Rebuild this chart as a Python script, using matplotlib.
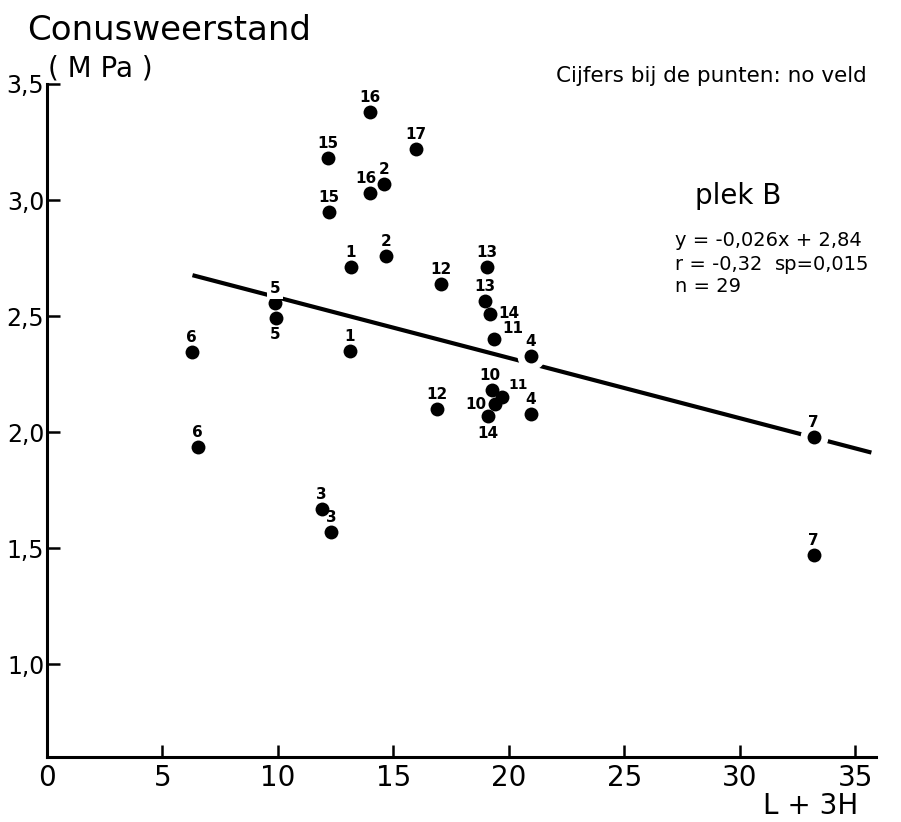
import matplotlib
matplotlib.use("Agg")
import matplotlib.pyplot as plt
import numpy as np

# Field numbers and measured values (x = L + 3H, y = cone resistance in MPa)
field_no = [1, 1, 2, 2, 3, 3, 4, 4, 5, 5, 6, 6, 7, 7, 10, 10,
            11, 11, 12, 12, 13, 13, 14, 14, 15, 15, 16, 16, 17]
x_vals = [13.15, 13.1, 14.58, 14.67, 11.9, 12.3, 20.94, 20.94, 9.87, 9.9,
          6.27, 6.53, 33.2, 33.2, 19.25, 19.4, 19.34, 19.7, 17.05, 16.9,
          19.04, 18.95, 19.2, 19.1, 12.16, 12.2, 14.0, 14.0, 15.97]
y_vals = [2.71, 2.35, 3.07, 2.76, 1.67, 1.57, 2.33, 2.08, 2.555, 2.49,
          2.345, 1.935, 1.98, 1.47, 2.18, 2.12, 2.40, 2.15, 2.64, 2.10,
          2.71, 2.565, 2.51, 2.07, 3.18, 2.95, 3.38, 3.03, 3.22]

# Regression line
slope = -0.026
intercept = 2.84
fit_range = [6.3, 35.7]

x_ticks = [0, 5, 10, 15, 20, 25, 30, 35]
y_ticks = [1.0, 1.5, 2.0, 2.5, 3.0, 3.5]
y_tick_labels = ["1,0", "1,5", "2,0", "2,5", "3,0", "3,5"]

REG = ["DejaVu Sans"]

fig = plt.figure(figsize=(9.01, 8.22), dpi=100)
fig.patch.set_facecolor("white")
L, R, T, B = 47, 876, 84, 757
ax = fig.add_axes([L / 901, (822 - B) / 822, (R - L) / 901, (B - T) / 822])
ax.set_xlim(0, 35.9)
ax.set_ylim(0.6, 3.5)

for side in ("top", "right"):
    ax.spines[side].set_visible(False)
for side in ("left", "bottom"):
    ax.spines[side].set_linewidth(2.2)
    ax.spines[side].set_color("black")

ax.set_xticks(x_ticks)
ax.set_xticklabels([str(t) for t in x_ticks], fontfamily=REG, fontsize=20)
ax.set_yticks(y_ticks)
ax.set_yticklabels(y_tick_labels, fontfamily=REG, fontsize=17)
ax.tick_params(axis="both", direction="in", length=9, width=1.8, colors="black")
ax.tick_params(axis="x", pad=5)
ax.tick_params(axis="y", pad=2)

# regression line
fx = np.array(fit_range)
ax.plot(fx, slope * fx + intercept, color="black", lw=3.0, zorder=2,
        solid_capstyle="butt")

# points, with a white halo where they sit on the line
ax.plot(x_vals, y_vals, "o", ms=10, color="black", mew=0,
        zorder=4, clip_on=False)
halo_idx = [6, 12]
ax.plot([x_vals[i] for i in halo_idx], [y_vals[i] for i in halo_idx], "o",
        ms=19, color="white", zorder=3)

# label placement in offset points, per point index
offsets = {i: (0, 5) for i in range(len(field_no))}
offsets[9] = (0, -6)       # lower 5
offsets[23] = (0, -7)      # lower 14
offsets[15] = (-6, 0)      # lower 10
offsets[14] = (-1, 5)      # upper 10
offsets[17] = (5, 4)       # lower 11
offsets[16] = (6, 2)       # upper 11
offsets[22] = (6, 0)       # upper 14
offsets[27] = (-3, 5)      # lower 16

for i, (n, x, y) in enumerate(zip(field_no, x_vals, y_vals)):
    dx, dy = offsets[i]
    ha = "center"
    if dx <= -5:
        ha = "right"
    elif dx >= 5:
        ha = "left"
    va = "bottom" if dy > 0 else ("top" if dy < 0 else "center")
    kw = {}
    if i == 8:
        kw["bbox"] = dict(boxstyle="square,pad=0.15", fc="white", ec="none")
    ax.annotate(str(n), (x, y), xytext=(dx, dy), textcoords="offset points",
                ha=ha, va=va, fontsize=11 if i != 17 else 10,
                fontweight="bold", fontfamily=REG, zorder=5, **kw)

# axis titles
fig.text(27 / 901, 1 - 30 / 822, "Conusweerstand", fontsize=24.5,
         fontfamily=REG, va="center", ha="left")
fig.text(48 / 901, 1 - 68 / 822, "( M Pa )", fontsize=20,
         fontfamily=REG, va="center", ha="left")
fig.text(811 / 901, 1 - 806 / 822, "L + 3H", fontsize=20,
         fontfamily=REG, va="center", ha="center")

# notes
fig.text(556 / 901, 1 - 76 / 822, "Cijfers bij de punten: no veld",
         fontsize=15.5, fontfamily=REG, va="center", ha="left")
fig.text(695 / 901, 1 - 196 / 822, "plek B", fontsize=20,
         fontfamily=REG, va="center", ha="left")
fig.text(675 / 901, 1 - 241 / 822, "y = -0,026x + 2,84", fontsize=14,
         fontfamily=REG, va="center", ha="left")
fig.text(675 / 901, 1 - 264 / 822, "r = -0,32", fontsize=14,
         fontfamily=REG, va="center", ha="left")
fig.text(775 / 901, 1 - 264 / 822, "sp=0,015", fontsize=14,
         fontfamily=REG, va="center", ha="left")
fig.text(675 / 901, 1 - 287 / 822, "n = 29", fontsize=14,
         fontfamily=REG, va="center", ha="left")

fig.savefig("out.png", dpi=100, facecolor="white")
